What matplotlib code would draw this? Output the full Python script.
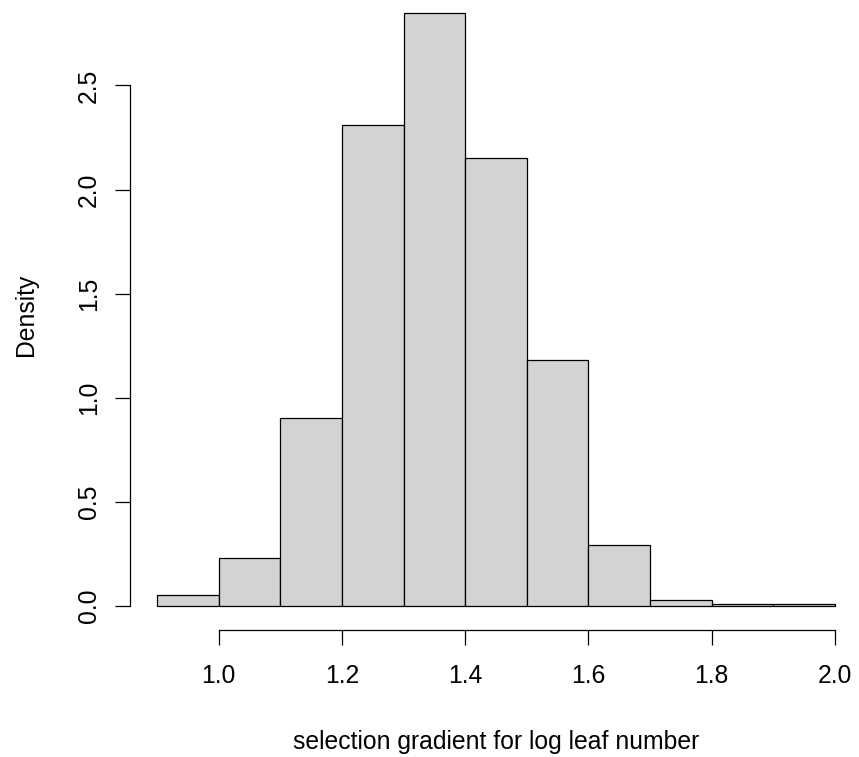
import matplotlib
matplotlib.use("Agg")
import matplotlib.pyplot as plt

plt.rcParams["font.family"] = ["Liberation Sans", "DejaVu Sans"]

# Histogram bins (left edges) and density heights
bin_edges = [0.9, 1.0, 1.1, 1.2, 1.3, 1.4, 1.5, 1.6, 1.7, 1.8, 1.9, 2.0]
density = [0.05, 0.23, 0.90, 2.31, 2.85, 2.15, 1.18, 0.29, 0.025, 0.008, 0.008]

x_ticks = [1.0, 1.2, 1.4, 1.6, 1.8, 2.0]
x_tick_labels = ["1.0", "1.2", "1.4", "1.6", "1.8", "2.0"]
y_ticks = [0.0, 0.5, 1.0, 1.5, 2.0, 2.5]
y_tick_labels = ["0.0", "0.5", "1.0", "1.5", "2.0", "2.5"]

W, H = 859, 757
dpi = 100
fig = plt.figure(figsize=(W / dpi, H / dpi), dpi=dpi)

# plot region in pixels (x range padded 4% on each side, as in base R graphics)
left_px, right_px = 130.0, 862.0
top_px, bottom_px = 0.0, 629.7
ax = fig.add_axes([left_px / W, 1 - bottom_px / H,
                   (right_px - left_px) / W, (bottom_px - top_px) / H])

widths = [b - a for a, b in zip(bin_edges[:-1], bin_edges[1:])]
ax.bar(bin_edges[:-1], density, width=widths, align="edge",
       color="#D3D3D3", edgecolor="black", linewidth=0.9)

ax.set_xlim(0.856, 2.044)
ax.set_ylim(-0.116, 2.911)

for s in ("top", "right"):
    ax.spines[s].set_visible(False)
ax.spines["left"].set_bounds(0.0, 2.5)
ax.spines["bottom"].set_bounds(1.0, 2.0)
for s in ("left", "bottom"):
    ax.spines[s].set_linewidth(0.9)

fs = 17.8
ax.set_xticks(x_ticks)
ax.set_xticklabels(x_tick_labels, fontsize=fs)
ax.set_yticks(y_ticks)
ax.set_yticklabels(y_tick_labels, fontsize=fs, rotation=90, va="center")
ax.tick_params(direction="out", length=10.8, width=0.9)
ax.tick_params(axis="x", pad=14)
ax.tick_params(axis="y", pad=10)

ax.set_xlabel("selection gradient for log leaf number", fontsize=fs, labelpad=30)
ax.set_ylabel("Density", fontsize=fs, labelpad=28)

fig.savefig("out.png", dpi=dpi)
